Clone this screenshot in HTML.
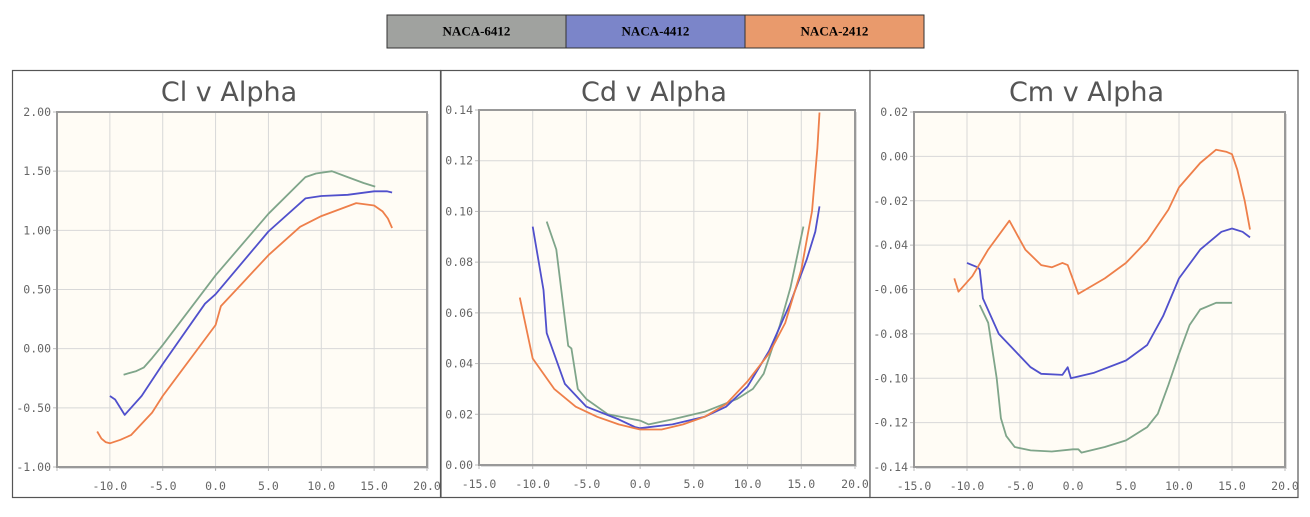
<!DOCTYPE html>
<html><head><meta charset="utf-8"><style>
html,body{margin:0;padding:0;background:#fff;width:1310px;height:517px;overflow:hidden}
svg{display:block}
</style></head><body>
<svg id="root" width="1310" height="517" xmlns="http://www.w3.org/2000/svg">
<g font-family="Liberation Serif, serif" font-weight="bold" font-size="13">
<rect x="387" y="15" width="179" height="33" fill="#a0a29f" stroke="#333"/>
<text x="476.5" y="35.5" text-anchor="middle">NACA-6412</text>
<rect x="566" y="15" width="179" height="33" fill="#7b85c9" stroke="#333"/>
<text x="655.5" y="35.5" text-anchor="middle">NACA-4412</text>
<rect x="745" y="15" width="179" height="33" fill="#e99a6c" stroke="#333"/>
<text x="834.5" y="35.5" text-anchor="middle">NACA-2412</text>
</g>
</svg>
<script>
const xTicks=[-15,-10,-5,0,5,10,15,20];
const clTicks=[-1,-0.5,0,0.5,1,1.5,2];
const cdTicks=[0,0.02,0.04,0.06,0.08,0.1,0.12,0.14];
const cmTicks=[-0.14,-0.12,-0.1,-0.08,-0.06,-0.04,-0.02,0,0.02];

const clGreenA=[-8.7,-7.5,-6.8,-6,-5,0,5,8.5,9.5,11,12.5,14,15.1];
const clGreen=[-0.22,-0.19,-0.16,-0.08,0.03,0.62,1.14,1.45,1.48,1.50,1.45,1.40,1.37];
const clBlueA=[-10,-9.5,-8.6,-7,-5,-1,0,5,8.5,10,12.5,15,16.2,16.7];
const clBlue=[-0.40,-0.43,-0.56,-0.40,-0.13,0.38,0.46,0.99,1.27,1.29,1.30,1.33,1.33,1.32];
const clOrangeA=[-11.2,-10.8,-10.4,-10,-9,-8,-6,-5,0,0.5,2.5,5,8,10,13.3,15,15.8,16.3,16.7];
const clOrange=[-0.70,-0.76,-0.79,-0.80,-0.77,-0.73,-0.54,-0.40,0.20,0.36,0.55,0.79,1.03,1.12,1.23,1.21,1.16,1.10,1.02];

const cdOrangeA=[-11.2,-10.8,-10,-8,-6,-4,-2,0,2,4,6,8,10,12,13.5,15,16,16.5,16.7];
const cdOrange=[0.066,0.058,0.042,0.030,0.023,0.019,0.016,0.014,0.014,0.016,0.019,0.024,0.033,0.044,0.056,0.077,0.100,0.125,0.139];
const cdBlueA=[-10,-9,-8.7,-7,-5,-2,-0.5,0,3,6,8,10,12,14,15.5,16.3,16.7];
const cdBlue=[0.094,0.069,0.052,0.032,0.023,0.018,0.015,0.0145,0.016,0.019,0.023,0.031,0.045,0.064,0.081,0.092,0.102];
const cdGreenA=[-8.7,-7.8,-6.7,-6.4,-5.8,-5,-3,0,0.8,3,6,9,10.5,11.5,13,14,15.2];
const cdGreen=[0.096,0.085,0.047,0.046,0.030,0.026,0.020,0.0175,0.016,0.018,0.021,0.026,0.030,0.036,0.055,0.070,0.094];

const cmOrangeA=[-11.2,-10.8,-9.5,-8,-6,-4.5,-3,-2,-1,-0.5,0.5,3,5,7,9,10,12,13.5,14.5,15,15.5,16.2,16.7];
const cmOrange=[-0.055,-0.061,-0.054,-0.042,-0.029,-0.042,-0.049,-0.050,-0.048,-0.049,-0.062,-0.055,-0.048,-0.038,-0.024,-0.014,-0.003,0.003,0.002,0.001,-0.006,-0.020,-0.033];
const cmBlueA=[-10,-9,-8.8,-8.5,-7,-5,-4,-3,-1,-0.5,-0.2,2,5,7,8.5,10,12,14,15,16,16.7];
const cmBlue=[-0.048,-0.050,-0.051,-0.064,-0.080,-0.090,-0.095,-0.098,-0.0985,-0.095,-0.100,-0.0975,-0.092,-0.085,-0.072,-0.055,-0.042,-0.034,-0.0325,-0.034,-0.0365];
const cmGreenA=[-8.8,-8,-7.2,-6.8,-6.3,-5.5,-4,-2,0,0.5,0.8,3,5,7,8,9,10,11,12,13.5,15];
const cmGreen=[-0.067,-0.075,-0.100,-0.118,-0.126,-0.131,-0.1325,-0.133,-0.132,-0.132,-0.1335,-0.131,-0.128,-0.122,-0.116,-0.103,-0.089,-0.076,-0.069,-0.066,-0.066];

const NS='http://www.w3.org/2000/svg';
const root=document.getElementById('root');
function mk(tag,attrs,parent){const e=document.createElementNS(NS,tag);for(const k in attrs)e.setAttribute(k,attrs[k]);parent.appendChild(e);return e;}
const GREEN='#7fa58a',BLUE='#5050cc',ORANGE='#ee7f4a';

function chart(cfg){
  const g=mk('g',{},root);
  
  
  const fr=mk('rect',{x:cfg.bx,y:70.5,width:cfg.bw,height:427,fill:'#fff',stroke:'#555','stroke-width':1.2},g);
  
  
  const t=mk('text',{x:(cfg.L+cfg.R)/2-13,y:101,'text-anchor':'middle','font-family':'DejaVu Sans, sans-serif','font-size':27,fill:'#555'},g);
  t.textContent=cfg.title;
  
  
  const xs=v=>cfg.L+(v-(-15))/35*(cfg.R-cfg.L);
  const ys=v=>cfg.B-(v-cfg.ymin)/(cfg.ymax-cfg.ymin)*(cfg.B-cfg.T);
  mk('rect',{x:cfg.L+2,y:cfg.T+2,width:cfg.R-cfg.L,height:cfg.B-cfg.T,fill:'#ddd'},g);
  const pa=mk('rect',{x:cfg.L,y:cfg.T,width:cfg.R-cfg.L,height:cfg.B-cfg.T,fill:'#fffcf5'},g);
  
  
  xTicks.forEach(v=>{
    const x=xs(v);
    if(v>-15&&v<20) mk('line',{x1:x,x2:x,y1:cfg.T,y2:cfg.B,stroke:'#d8d8d8','stroke-width':1},g);
    mk('line',{x1:x,x2:x,y1:cfg.B,y2:cfg.B+4,stroke:'#bbb'},g);
    if(cfg.skipFirstX&&v===-15) return;
    const tl=mk('text',{x:x,y:cfg.B+23,'text-anchor':'middle','font-family':'DejaVu Sans Mono, monospace','font-size':11.5,fill:'#666'},g);
    tl.textContent=v.toFixed(1);
    
    
  });
  cfg.yt.forEach(v=>{
    const y=ys(v);
    if(v>cfg.ymin&&v<cfg.ymax) mk('line',{x1:cfg.L,x2:cfg.R,y1:y,y2:y,stroke:'#d8d8d8','stroke-width':1},g);
    mk('line',{x1:cfg.L-4,x2:cfg.L,y1:y,y2:y,stroke:'#bbb'},g);
    const tl=mk('text',{x:cfg.L-6,y:y+4,'text-anchor':'end','font-family':'DejaVu Sans Mono, monospace','font-size':11.5,fill:'#666'},g);
    tl.textContent=v.toFixed(2);
    
    
  });
  mk('rect',{x:cfg.L,y:cfg.T,width:cfg.R-cfg.L,height:cfg.B-cfg.T,fill:'none',stroke:'#999','stroke-width':2},g);
  cfg.series.forEach(s=>{
    const d=s.a.map((a,i)=>(i?'L':'M')+xs(a).toFixed(1)+' '+ys(s.v[i]).toFixed(1)).join(' ');
    const p=mk('path',{d:d,fill:'none',stroke:s.c,'stroke-width':1.8,'stroke-linejoin':'round'},g);
    
    
  });
}
chart({name:'cl-chart',title:'Cl v Alpha',bx:12.5,bw:428,L:57,R:427,T:112,B:467,ymin:-1,ymax:2,yt:clTicks,skipFirstX:true,
  series:[{a:clGreenA,v:clGreen,c:GREEN,n:'cl-line-naca-6412'},{a:clBlueA,v:clBlue,c:BLUE,n:'cl-line-naca-4412'},{a:clOrangeA,v:clOrange,c:ORANGE,n:'cl-line-naca-2412'}]});
chart({name:'cd-chart',title:'Cd v Alpha',bx:441,bw:429,L:479,R:855,T:110,B:465,ymin:0,ymax:0.14,yt:cdTicks,
  series:[{a:cdGreenA,v:cdGreen,c:GREEN,n:'cd-line-naca-6412'},{a:cdBlueA,v:cdBlue,c:BLUE,n:'cd-line-naca-4412'},{a:cdOrangeA,v:cdOrange,c:ORANGE,n:'cd-line-naca-2412'}]});
chart({name:'cm-chart',title:'Cm v Alpha',bx:870,bw:428,L:914,R:1285,T:112,B:467,ymin:-0.14,ymax:0.02,yt:cmTicks,
  series:[{a:cmGreenA,v:cmGreen,c:GREEN,n:'cm-line-naca-6412'},{a:cmBlueA,v:cmBlue,c:BLUE,n:'cm-line-naca-4412'},{a:cmOrangeA,v:cmOrange,c:ORANGE,n:'cm-line-naca-2412'}]});
</script>
</body></html>
